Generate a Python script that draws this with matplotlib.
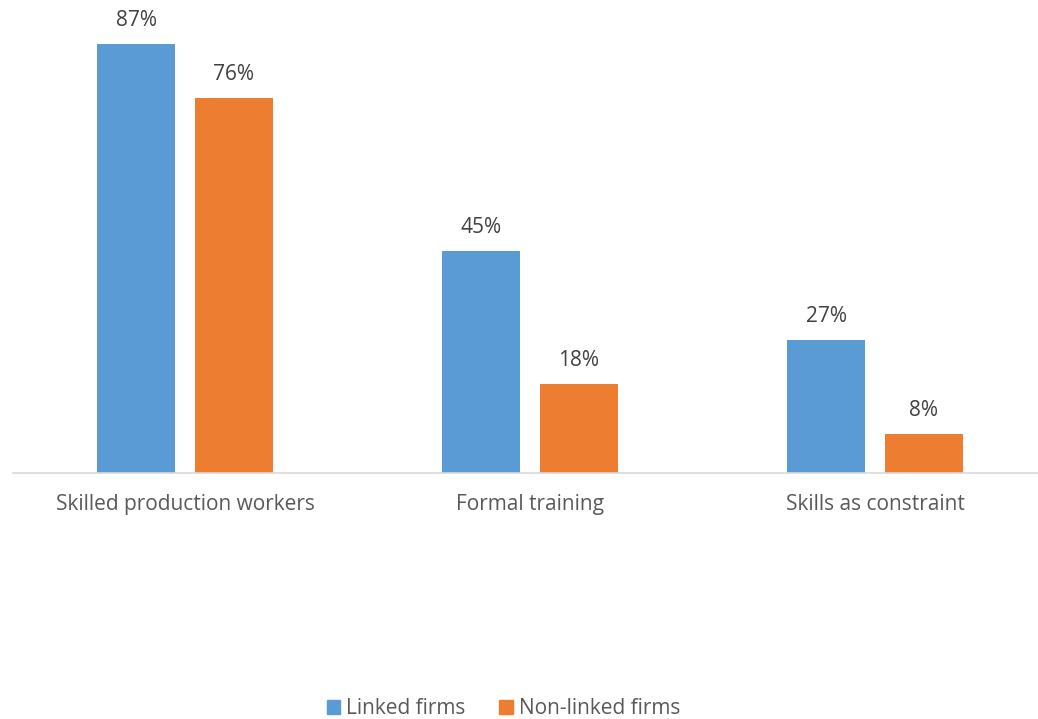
import matplotlib
matplotlib.use("Agg")
import matplotlib.pyplot as plt
from matplotlib.patches import Patch
import numpy as np

categories = ["Skilled production workers", "Formal training", "Skills as constraint"]
linked = [87, 45, 27]
non_linked = [76, 18, 8]
series_names = ["Linked firms", "Non-linked firms"]

plt.rcParams['font.family'] = ['Open Sans', 'DejaVu Sans']

fig = plt.figure(figsize=(10.38, 7.19), dpi=100)
ax = fig.add_axes([12.5/1038, (719-473)/719, 1035/1038, (473-29)/719])

x = np.arange(len(categories))
w = 0.226
off = 0.142
blue = "#5B9BD5"
orange = "#ED7D31"
b1 = ax.bar(x - off, linked, w, color=blue)
b2 = ax.bar(x + off, non_linked, w, color=orange)

for bars, vals in ((b1, linked), (b2, non_linked)):
    for r, v in zip(bars, vals):
        ax.text(r.get_x() + r.get_width()/2, v + 2.6, f"{v}%", ha="center", va="bottom",
                fontsize=15, color="#404040", clip_on=False)

ax.set_xlim(-0.5, 2.5)
ax.set_ylim(0, 90)
for s in ["top", "right", "left"]:
    ax.spines[s].set_visible(False)
ax.spines["bottom"].set_color("#D9D9D9")
ax.spines["bottom"].set_linewidth(1.2)
ax.set_yticks([])
ax.set_xticks(x)
ax.set_xticklabels(categories, fontsize=15, color="#595959")
ax.tick_params(axis="x", length=0, pad=15)

handles = [Patch(color=blue, label=series_names[0]), Patch(color=orange, label=series_names[1])]
fig.legend(handles=handles, loc="lower center", bbox_to_anchor=(0.485, -0.026), ncol=2, frameon=False,
           fontsize=15, labelcolor="#595959", handlelength=0.65, handleheight=0.65,
           handletextpad=0.3, columnspacing=1.6)

fig.savefig("out.png", dpi=100)
